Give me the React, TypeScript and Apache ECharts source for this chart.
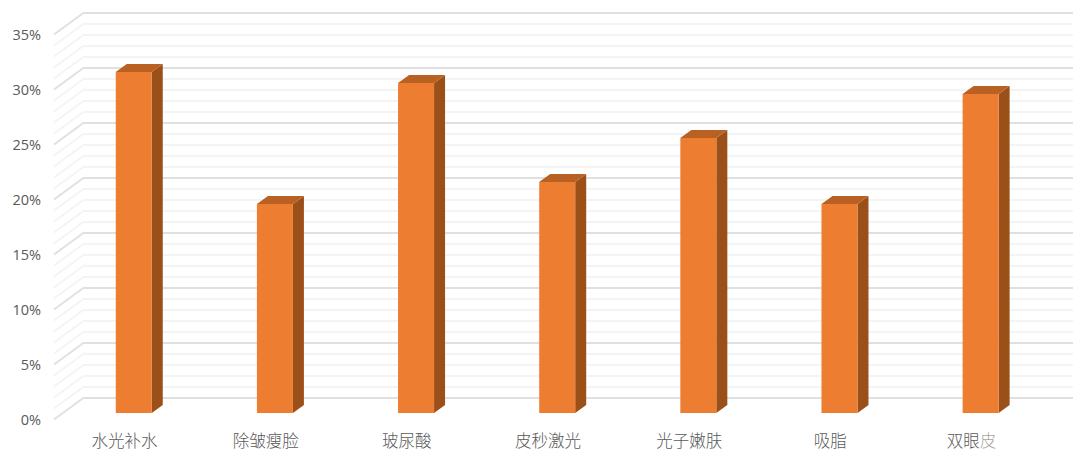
import React, { useEffect, useRef } from "react";
import * as echarts from "echarts";

const categories = ["水光补水", "除皱瘦脸", "玻尿酸", "皮秒激光", "光子嫩肤", "吸脂", "双眼皮"];
const values = [31, 19, 30, 21, 25, 19, 29];
const gridLevels = [0,1,2,3,4,5,6,7,8,9,10,11,12,13,14,15,16,17,18,19,20,21,22,23,24,25,26,27,28,29,30,31,32,33,34,35];

const FONT = '"Noto Sans CJK SC", "Noto Sans", sans-serif';
const TEXT = "#595959";

export default function App() {
  const ref = useRef<HTMLDivElement>(null);
  useEffect(() => {
    const chart = echarts.init(ref.current!, null, { renderer: "svg" });
    chart.setOption({
      animation: false,
      backgroundColor: "#ffffff",
      grid: [
        { left: 84, top: 12.5, width: 989, height: 385 },
        { left: 54, top: 34.5, width: 988, height: 385 },
      ],
      xAxis: [
        { type: "category", gridIndex: 0, data: categories, show: false },
        {
          type: "category",
          gridIndex: 1,
          data: categories,
          axisLine: { show: false },
          axisTick: { show: false },
          axisLabel: {
            interval: 0,
            margin: 12,
            color: TEXT,
            fontFamily: FONT,
            fontSize: 16.5,
            fontWeight: 300,
            formatter: (v: string) => (v === "双眼皮" ? "双眼{l|皮}" : v),
            rich: { l: { color: "#a6a6a6", fontFamily: FONT, fontSize: 16.5, fontWeight: 300 } },
          },
        },
      ],
      yAxis: [
        {
          type: "value",
          gridIndex: 0,
          min: 0,
          max: 35,
          interval: 5,
          axisLine: { show: false },
          axisTick: { show: false },
          axisLabel: { show: false },
          splitLine: { show: true, lineStyle: { color: "#e0e0e0", width: 2 } },
          minorTick: { show: false, splitNumber: 5 },
          minorSplitLine: { show: true, lineStyle: { color: "#f4f4f4", width: 2 } },
        },
        {
          type: "value",
          gridIndex: 1,
          min: 0,
          max: 35,
          interval: 5,
          axisLine: { show: false },
          axisTick: { show: false },
          splitLine: { show: false },
          axisLabel: {
            margin: 13,
            color: TEXT,
            fontFamily: '"Open Sans", sans-serif',
            fontSize: 14.5,
            fontWeight: 400,
            formatter: "{value}%",
          },
        },
      ],
      series: [
        {
          type: "custom",
          xAxisIndex: 1,
          yAxisIndex: 1,
          z: 1,
          silent: true,
          clip: false,
          data: gridLevels,
          encode: { y: 0 },
          renderItem: (params: any, api: any) => {
            const level = api.value(0);
            const y = api.coord([0, level])[1];
            const x = params.coordSys.x;
            const major = level % 5 === 0;
            return {
              type: "line",
              shape: { x1: x, y1: y, x2: x + 30, y2: y - 22 },
              style: { stroke: major ? "#e0e0e0" : "#f4f4f4", lineWidth: 2, fill: "none" },
            };
          },
        },
        {
          type: "custom",
          xAxisIndex: 1,
          yAxisIndex: 1,
          z: 3,
          silent: true,
          clip: false,
          data: values.map((v, i) => [i, v]),
          encode: { x: 0, y: 1 },
          renderItem: (_: any, api: any) => {
            const base = api.coord([api.value(0), 0]);
            const top = api.coord([api.value(0), api.value(1)]);
            const w = 36, dx = 11, dy = 8;
            const x0 = base[0] + 9.2 - w / 2;
            const x1 = x0 + w;
            const yb = base[1] - 6.5;
            const yt = top[1] - 6.5;
            return {
              type: "group",
              children: [
                {
                  type: "polygon",
                  shape: { points: [[x1, yt], [x1 + dx, yt - dy], [x1 + dx, yb - dy], [x1, yb]] },
                  style: { fill: "#9c5019" },
                },
                {
                  type: "polygon",
                  shape: { points: [[x0, yt], [x0 + dx, yt - dy], [x1 + dx, yt - dy], [x1, yt]] },
                  style: { fill: "#b86122" },
                },
                {
                  type: "rect",
                  shape: { x: x0, y: yt, width: w, height: yb - yt },
                  style: { fill: "#ed7d31" },
                },
              ],
            };
          },
        },
      ],
    });
    return () => chart.dispose();
  }, []);
  return <div ref={ref} style={{ position: "fixed", left: 0, top: 0, width: 1080, height: 459 }} />;
}
